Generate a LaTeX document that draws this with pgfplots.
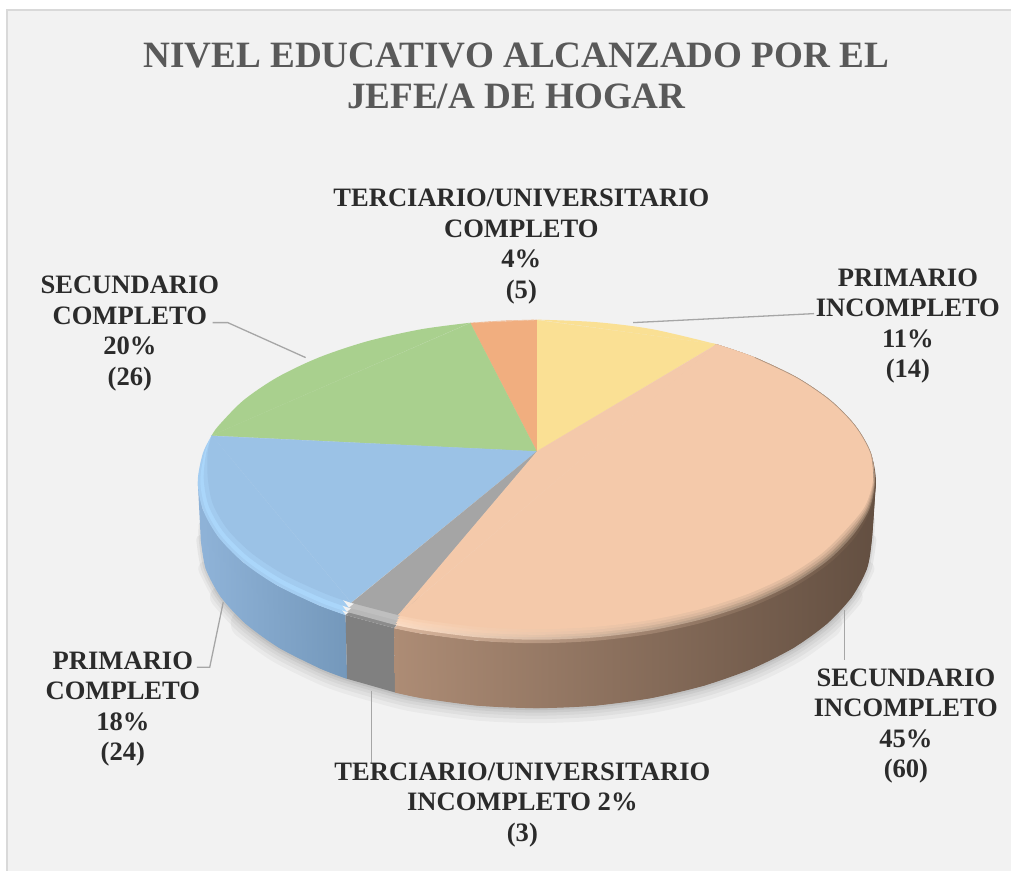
\documentclass[border=0pt]{standalone}
\usepackage{pgfplots}
\pgfplotsset{compat=1.18}
\usepackage{fontspec}
\setmainfont{Liberation Serif}
\definecolor{bgc}{HTML}{F2F2F2}
\definecolor{framec}{HTML}{D9D9D9}
\definecolor{leadc}{HTML}{A6A6A6}
\definecolor{txt}{HTML}{2B2B2B}
\definecolor{titlec}{HTML}{595959}
\definecolor{yel}{HTML}{FAE094}
\definecolor{ora}{HTML}{F1AE7F}
\definecolor{gre}{HTML}{A9D08E}
\definecolor{blu}{HTML}{9BC2E6}
\definecolor{gry}{HTML}{A5A5A5}
\definecolor{pea}{HTML}{F4C9AA}
\definecolor{sbA}{HTML}{8FB3D8}
\definecolor{sbB}{HTML}{7498BB}
\definecolor{spA}{HTML}{AD8C75}
\definecolor{spB}{HTML}{6F5848}
\definecolor{spC}{HTML}{634F41}
\definecolor{rbA}{HTML}{A4CDF1}
\definecolor{rbB}{HTML}{AAD6FA}
\definecolor{rbC}{HTML}{A2CBEF}
\definecolor{raA}{HTML}{D8B59C}
\definecolor{raB}{HTML}{7A6050}
\definecolor{raC}{HTML}{6A5444}
\definecolor{rcA}{HTML}{FBDCC4}
\definecolor{rcB}{HTML}{A88A74}
\definecolor{rcC}{HTML}{8F7865}
\definecolor{reA}{HTML}{FBD9BF}
\definecolor{reB}{HTML}{C09E85}
\definecolor{reC}{HTML}{AC8F77}
\definecolor{rdA}{HTML}{FBD6BA}
\definecolor{rdB}{HTML}{D8B195}
\definecolor{rdC}{HTML}{C9A68D}
\definecolor{rfA}{HTML}{F8D0B2}
\definecolor{rfB}{HTML}{E6BD9F}
\definecolor{rfC}{HTML}{DEB89C}
\definecolor{edg}{HTML}{A8917F}
\tikzset{lab/.style={align=center,text=txt,font=\bfseries\fontsize{26.6}{30.5}\selectfont}}
\begin{document}
\begin{tikzpicture}
\begin{axis}[at={(0,0)},anchor=south west,scale only axis,width=1012pt,height=872pt,
  xmin=0,xmax=1012,ymin=0,ymax=872,y dir=reverse,hide axis,clip=false]
% page
\addplot[fill=white,draw=none] coordinates {(0,0)(1012,0)(1012,872)(0,872)};
\addplot[fill=bgc,draw=none] coordinates {(7,10)(1012,10)(1012,872)(7,872)};
\addplot[draw=framec,line width=2.5pt] coordinates {(7,872)(7,10)(1012,10)};
% soft shadow
\addplot[smooth,draw=black,opacity=0.035,line width=30pt,line cap=round] coordinates {(246,624.5)(279.6,648.7)(321,669.5)(347.5,679.6)(395.5,693.3)(422,698.9)(478.5,706.5)(537,709)(595.5,706.5)(652,698.9)(705,686.4)(753,669.5)(794.4,648.7)(828,624.5)};
\addplot[smooth,draw=black,opacity=0.04,line width=22pt,line cap=round] coordinates {(221.2,597.8)(246,624.5)(279.6,648.7)(321,669.5)(347.5,679.6)(395.5,693.3)(422,698.9)(478.5,706.5)(537,709)(595.5,706.5)(652,698.9)(705,686.4)(753,669.5)(794.4,648.7)(828,624.5)(852.8,597.8)};
\addplot[smooth,draw=black,opacity=0.04,line width=15pt,line cap=round] coordinates {(206,569.4)(221.2,597.8)(246,624.5)(279.6,648.7)(321,669.5)(347.5,679.6)(395.5,693.3)(422,698.9)(478.5,706.5)(537,709)(595.5,706.5)(652,698.9)(705,686.4)(753,669.5)(794.4,648.7)(828,624.5)(852.8,597.8)(868,569.4)};
\addplot[smooth,draw=black,opacity=0.05,line width=9pt,line cap=round] coordinates {(201,540)(206,569.4)(221.2,597.8)(246,624.5)(279.6,648.7)(321,669.5)(347.5,679.6)(395.5,693.3)(422,698.9)(478.5,706.5)(537,709)(595.5,706.5)(652,698.9)(705,686.4)(753,669.5)(794.4,648.7)(828,624.5)(852.8,597.8)(868,569.4)(873,540)};
\addplot[smooth,draw=black,opacity=0.06,line width=4pt,line cap=round] coordinates {(201,525)(201,540)(206,569.4)(221.2,597.8)(246,624.5)(279.6,648.7)(321,669.5)(347.5,679.6)(395.5,693.3)(422,698.9)(478.5,706.5)(537,709)(595.5,706.5)(652,698.9)(705,686.4)(753,669.5)(794.4,648.7)(828,624.5)(852.8,597.8)(868,569.4)(873,540)(874,520)};
% side walls
\addplot[draw=none,left color=sbA,right color=sbB] coordinates {(198,482)(203.1,510.1)(218.5,537.4)(243.5,563)(277.4,586.1)(319.3,606.1)(346,615.8)(347.5,679.6)(321,669.5)(279.6,648.7)(246,624.5)(221.2,597.8)(206,569.4)(201,540)};
\addplot[smooth,draw=none,left color=sbA,right color=sbB] coordinates {(201,540)(206,569.4)(221.2,597.8)(246,624.5)(279.6,648.7)(321,669.5)(347.5,679.6)};
\addplot[draw=none,fill=black!50] coordinates {(346,615.8)(394.6,628.9)(395.5,693.3)(347.5,679.6)};
\addplot[draw=none,left color=spA,middle color=spB,right color=spC] coordinates {(394.6,628.9)(421.4,634.3)(478.5,641.5)(537.5,644)(596.5,641.5)(653.6,634.3)(707.3,622.3)(755.7,606.1)(797.6,586.1)(831.5,563)(856.5,537.4)(871.9,510.1)(877,482)(873,540)(868,569.4)(852.8,597.8)(828,624.5)(794.4,648.7)(753,669.5)(705,686.4)(652,698.9)(595.5,706.5)(537,709)(478.5,706.5)(422,698.9)(395.5,693.3)};
\addplot[smooth,draw=none,left color=spA,middle color=spB,right color=spC] coordinates {(877,482)(873,540)(868,569.4)(852.8,597.8)(828,624.5)(794.4,648.7)(753,669.5)(705,686.4)(652,698.9)(595.5,706.5)(537,709)(478.5,706.5)(422,698.9)(395.5,693.3)};
% top: yellow 11%
\addplot[draw=yel,line width=0.4pt,fill=yel] coordinates {(537.5,452)(537.5,320.5)(717.4,344.7)};
\addplot[smooth,draw=none,fill=yel] coordinates {(537.5,320)(596.5,322.5)(653.6,329.7)(717.4,344.7)};
% top: orange 4%
\addplot[draw=ora,line width=0.4pt,fill=ora] coordinates {(537.5,452)(471,323.5)(537.5,320.5)};
\addplot[smooth,draw=none,fill=ora] coordinates {(471,323.1)(504,321)(537.5,320)};
% top: green 20%
\addplot[draw=gre,line width=0.4pt,fill=gre] coordinates {(537.5,452)(212,436)(471,323.5)};
\addplot[smooth,draw=none,fill=gre] coordinates {(212,436)(218.5,426.6)(243.5,401)(277.4,377.9)(319.3,357.9)(367.7,341.7)(421.4,329.7)(471,323.1)};
% top: blue 18%, rim levels
\addplot[smooth,draw=none,fill=rbA] coordinates {(212,436)(203.1,453.9)(198,482)(203.1,510.1)(218.5,537.4)(243.5,563)(277.4,586.1)(319.3,606.1)(346,615.8)};
\addplot[smooth,draw=none,fill=rbB] coordinates {(212,436)(205,453.5)(200.5,481)(205.6,508.8)(220.7,535.5)(245.6,560.8)(279.4,583.6)(320.8,603.2)(347.4,612.7)};
\addplot[smooth,draw=none,fill=rbC] coordinates {(212,436)(206.5,453)(204,479.6)(209,506.7)(224,532.9)(248.7,557.6)(282,579.9)(323.1,599.1)(349.4,608.5)};
\addplot[smooth,draw=none,fill=blu] coordinates {(212,436)(208,452.7)(208,478)(213,504.4)(227.8,530)(252.2,554)(285.1,575.7)(325.6,594.4)(351.7,603.6)};
\addplot[draw=blu,line width=0.4pt,fill=blu] coordinates {(537.5,452)(212.5,436.5)(351.7,603.3)};
% top: gray 2%
\addplot[draw=none,fill=black!45] coordinates {(537.5,452)(346,615.8)(394.6,628.9)};
\addplot[draw=none,fill=black!28] coordinates {(537.5,452)(347.4,612.7)(395.6,625.7)};
\addplot[draw=none,fill=black!25] coordinates {(537.5,452)(349.4,608.5)(397.1,621.1)};
\addplot[draw=none,fill=gry] coordinates {(537.5,452)(351.7,603.6)(398.8,615.9)};
% top: peach 45%, rim levels
\addplot[smooth,draw=none,left color=raA,middle color=raB,right color=raC] coordinates {(717.4,344.7)(755.7,357.9)(797.6,377.9)(831.5,401)(856.5,426.6)(871.9,453.9)(877,482)(871.9,510.1)(856.5,537.4)(831.5,563)(797.6,586.1)(755.7,606.1)(707.3,622.3)(653.6,634.3)(596.5,641.5)(537.5,644)(478.5,641.5)(421.4,634.3)(394.6,628.9)};
\addplot[smooth,draw=none,left color=rcA,middle color=rcB,right color=rcC] coordinates {(717.4,344.7)(755.7,357.9)(797.6,377.9)(831.5,401)(856.5,426.6)(871.9,453.9)(876.2,481.6)(870.5,509.5)(854.3,535.5)(829.3,560.8)(795.6,583.6)(754.2,603.2)(706,619.1)(652.8,630.9)(596.1,638.1)(537.5,640.5)(478.9,638.1)(422.2,630.9)(395.6,625.7)};
\addplot[smooth,draw=none,left color=reA,middle color=reB,right color=reC] coordinates {(717.4,344.7)(755.7,357.9)(797.6,377.9)(831.5,401)(856.5,426.6)(871.9,453.9)(875.7,481.5)(869.5,508.9)(852.7,534.2)(827.8,559.2)(794.3,581.8)(753,601.2)(705.2,616.9)(652.2,628.6)(595.8,635.7)(537.5,638)(479.2,635.7)(422.8,628.6)(396.4,623.4)};
\addplot[smooth,draw=none,left color=rdA,middle color=rdB,right color=rdC] coordinates {(717.4,344.7)(755.7,357.9)(797.6,377.9)(831.5,401)(856.5,426.6)(871.9,453.9)(875.2,481.3)(868.4,508.2)(851,532.9)(826.3,557.6)(793,579.9)(751.9,599.1)(704.3,614.7)(651.6,626.2)(595.5,633.3)(537.5,635.6)(479.5,633.3)(423.4,626.2)(397.1,621.1)};
\addplot[smooth,draw=none,left color=rfA,middle color=rfB,right color=rfC] coordinates {(717.4,344.7)(755.7,357.9)(797.6,377.9)(831.5,401)(856.5,426.6)(871.9,453.9)(874.6,481)(867.2,507.5)(849.1,531.5)(824.5,555.8)(791.5,577.8)(750.6,596.8)(703.3,612.2)(650.9,623.5)(595.2,630.5)(537.5,632.8)(479.9,630.5)(424.1,623.5)(398,618.5)};
\addplot[smooth,draw=none,fill=pea] coordinates {(717.4,344.7)(755.7,357.9)(797.6,377.9)(831.5,401)(856.5,426.6)(871.9,453.9)(874,480.8)(866,506.7)(847.2,530)(822.8,554)(789.9,575.7)(749.4,594.4)(702.3,609.6)(650.2,620.9)(594.8,627.7)(537.5,630)(480.2,627.7)(424.8,620.9)(398.8,615.9)};
\addplot[draw=pea,line width=0.4pt,fill=pea] coordinates {(537.5,452)(717.4,345)(398.8,615.6)};
\addplot[smooth,draw=edg,line width=0.6pt] coordinates {(755.7,357.9)(797.6,377.9)(831.5,401)(856.5,426.6)(871.9,453.9)(875,482)};
% leader lines
\addplot[draw=leadc,line width=1.3pt] coordinates {(634,323)(815,314)};
\addplot[draw=leadc,line width=1.3pt] coordinates {(213,323)(228,323)(306,358)};
\addplot[draw=leadc,line width=1.3pt] coordinates {(197,668)(210,668)(223.5,603)};
\addplot[draw=leadc,line width=1.3pt] coordinates {(372,692)(372,765)};
\addplot[draw=leadc,line width=1.3pt] coordinates {(845.7,611)(845.7,661)};
% text
\node[align=center,text=titlec,font=\bfseries\fontsize{37.2}{41}\selectfont] at (axis cs:517,75.5) {NIVEL EDUCATIVO ALCANZADO POR EL\\JEFE/A DE HOGAR};
\node[lab] at (axis cs:522,247) {TERCIARIO/UNIVERSITARIO\\COMPLETO\\4\%\\(5)};
\node[lab] at (axis cs:909,326.5) {PRIMARIO\\INCOMPLETO\\11\%\\(14)};
\node[lab] at (axis cs:130,334) {SECUNDARIO\\COMPLETO\\20\%\\(26)};
\node[lab] at (axis cs:907,727) {SECUNDARIO\\INCOMPLETO\\45\%\\(60)};
\node[lab] at (axis cs:123,710) {PRIMARIO\\COMPLETO\\18\%\\(24)};
\node[lab] at (axis cs:523,806) {TERCIARIO/UNIVERSITARIO\\INCOMPLETO 2\%\\(3)};
\end{axis}
\end{tikzpicture}
\end{document}
